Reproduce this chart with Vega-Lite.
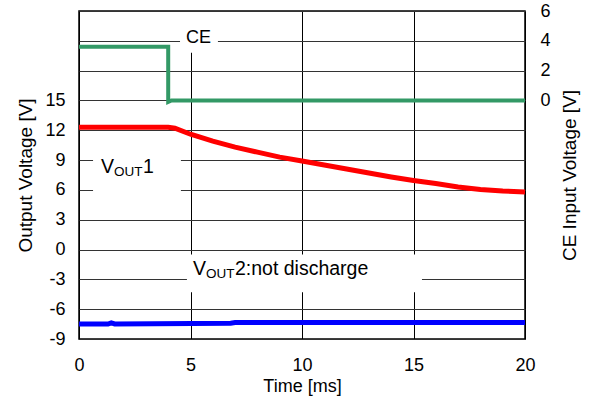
{
  "$schema": "https://vega.github.io/schema/vega-lite/v6.json",
  "width": 446,
  "height": 328,
  "autosize": "none",
  "padding": {"left": 79, "top": 11, "right": 65, "bottom": 61},
  "background": "white",
  "config": {
    "font": "Liberation Sans",
    "view": {"stroke": "#000", "strokeWidth": 1.5},
    "axis": {"labelFont": "Liberation Sans", "titleFont": "Liberation Sans", "labelColor": "#000", "titleColor": "#000", "titleFontWeight": "normal", "domain": false, "ticks": false, "labelOverlap": false}
  },
  "datasets": {
    "vout": [
      {"t": 0, "v": 12.3, "s": "VOUT1"}, {"t": 4.0, "v": 12.3, "s": "VOUT1"}, {"t": 4.3, "v": 12.2, "s": "VOUT1"},
      {"t": 5, "v": 11.6, "s": "VOUT1"}, {"t": 6, "v": 10.9, "s": "VOUT1"}, {"t": 7, "v": 10.3, "s": "VOUT1"},
      {"t": 8, "v": 9.8, "s": "VOUT1"}, {"t": 9, "v": 9.3, "s": "VOUT1"}, {"t": 10, "v": 8.9, "s": "VOUT1"},
      {"t": 11, "v": 8.5, "s": "VOUT1"}, {"t": 12, "v": 8.1, "s": "VOUT1"}, {"t": 13, "v": 7.7, "s": "VOUT1"},
      {"t": 14, "v": 7.3, "s": "VOUT1"}, {"t": 15, "v": 6.95, "s": "VOUT1"}, {"t": 16, "v": 6.65, "s": "VOUT1"},
      {"t": 17, "v": 6.3, "s": "VOUT1"}, {"t": 18, "v": 6.05, "s": "VOUT1"}, {"t": 19, "v": 5.9, "s": "VOUT1"},
      {"t": 20, "v": 5.8, "s": "VOUT1"},
      {"t": 0, "v": -7.5, "s": "VOUT2"}, {"t": 1.3, "v": -7.5, "s": "VOUT2"}, {"t": 1.45, "v": -7.38, "s": "VOUT2"},
      {"t": 1.6, "v": -7.48, "s": "VOUT2"}, {"t": 6.8, "v": -7.42, "s": "VOUT2"}, {"t": 7.0, "v": -7.35, "s": "VOUT2"},
      {"t": 7.6, "v": -7.34, "s": "VOUT2"}, {"t": 20, "v": -7.33, "s": "VOUT2"}
    ],
    "ce": [
      {"t": 0, "v": 3.6}, {"t": 4.0, "v": 3.6}, {"t": 4.0, "v": -0.1}, {"t": 4.15, "v": 0}, {"t": 20, "v": 0}
    ],
    "boxes": [
      {"t1": 4.53, "t2": 6.23, "v1": 19.8, "v2": 23.9},
      {"t1": 0.63, "t2": 4.57, "v1": 4.9, "v2": 10.6},
      {"t1": 4.84, "t2": 15.38, "v1": -4.3, "v2": -0.5}
    ],
    "labels": [
      {"t": 4.8, "v": 20.8, "part": "ce", "txt": "CE"},
      {"t": 0.99, "v": 7.67, "part": "main", "txt": "V"},
      {"t": 0.99, "v": 7.67, "part": "sub", "txt": "OUT"},
      {"t": 0.99, "v": 7.67, "part": "tail", "txt": "1"},
      {"t": 5.11, "v": -2.6, "part": "main", "txt": "V"},
      {"t": 5.11, "v": -2.6, "part": "sub", "txt": "OUT"},
      {"t": 5.11, "v": -2.6, "part": "tail", "txt": "2:not discharge"}
    ]
  },
  "layer": [
    {
      "data": {"name": "ce"},
      "mark": {"type": "line", "opacity": 0},
      "encoding": {
        "x": {"field": "t", "type": "quantitative", "scale": {"domain": [0, 20], "nice": false},
          "axis": {"values": [0, 5, 10, 15, 20], "title": "Time [ms]", "labelFontSize": 18, "titleFontSize": 18, "labelPadding": 17, "titlePadding": 3, "grid": true, "gridColor": "#000", "gridWidth": 1, "labelFlush": false}},
        "y": {"field": "v", "type": "quantitative", "scale": {"domain": [-16, 6], "nice": false, "zero": false},
          "axis": {"orient": "right", "values": [0, 2, 4, 6], "title": "CE Input Voltage [V]", "titleAngle": 270, "titleBaseline": "top", "labelFontSize": 18, "titleFontSize": 19, "labelPadding": 15, "titlePadding": 10, "grid": true, "gridColor": "#333", "gridWidth": 1}}
      }
    },
    {
      "layer": [
        {
          "data": {"name": "boxes"},
          "mark": {"type": "rect", "fill": "white"},
          "encoding": {
            "x": {"field": "t1", "type": "quantitative"},
            "x2": {"field": "t2"},
            "y": {"field": "v1", "type": "quantitative", "scale": {"domain": [-9, 24], "nice": false, "zero": false},
              "axis": {"values": [-9, -6, -3, 0, 3, 6, 9, 12, 15], "labelExpr": "replace(datum.label, '\u2212', '-')", "title": "Output Voltage [V]", "labelFontSize": 18, "titleFontSize": 19, "labelPadding": 14, "titlePadding": 9, "grid": true, "gridColor": "#333", "gridWidth": 1}},
            "y2": {"field": "v2"}
          }
        },
        {
          "data": {"name": "vout"},
          "mark": {"type": "line", "strokeWidth": 5, "strokeCap": "butt"},
          "encoding": {
            "x": {"field": "t", "type": "quantitative"},
            "y": {"field": "v", "type": "quantitative"},
            "detail": {"field": "s"},
            "color": {"field": "s", "type": "nominal", "scale": {"domain": ["VOUT1", "VOUT2"], "range": ["#ff0000", "#0000ff"]}, "legend": null}
          }
        },
        {
          "data": {"name": "labels"},
          "transform": [{"filter": "datum.part == 'ce'"}],
          "mark": {"type": "text", "fontSize": 18, "align": "left", "baseline": "alphabetic", "color": "#000"},
          "encoding": {
            "x": {"field": "t", "type": "quantitative"},
            "y": {"field": "v", "type": "quantitative"},
            "text": {"field": "txt"}
          }
        },
        {
          "data": {"name": "labels"},
          "transform": [{"filter": "datum.part == 'main'"}],
          "mark": {"type": "text", "fontSize": 19.5, "align": "left", "baseline": "alphabetic", "color": "#000"},
          "encoding": {
            "x": {"field": "t", "type": "quantitative"},
            "y": {"field": "v", "type": "quantitative"},
            "text": {"field": "txt"}
          }
        },
        {
          "data": {"name": "labels"},
          "transform": [{"filter": "datum.part == 'sub'"}],
          "mark": {"type": "text", "fontSize": 13.5, "align": "left", "baseline": "alphabetic", "dx": 13, "dy": 2.5, "color": "#000"},
          "encoding": {
            "x": {"field": "t", "type": "quantitative"},
            "y": {"field": "v", "type": "quantitative"},
            "text": {"field": "txt"}
          }
        },
        {
          "data": {"name": "labels"},
          "transform": [{"filter": "datum.part == 'tail'"}],
          "mark": {"type": "text", "fontSize": 19.5, "align": "left", "baseline": "alphabetic", "dx": 42, "color": "#000"},
          "encoding": {
            "x": {"field": "t", "type": "quantitative"},
            "y": {"field": "v", "type": "quantitative"},
            "text": {"field": "txt"}
          }
        }
      ]
    },
    {
      "data": {"name": "ce"},
      "mark": {"type": "line", "strokeWidth": 4, "color": "#339966", "strokeCap": "butt"},
      "encoding": {
        "x": {"field": "t", "type": "quantitative"},
        "y": {"field": "v", "type": "quantitative", "scale": {"domain": [-16, 6], "nice": false, "zero": false}, "axis": null}
      }
    }
  ],
  "resolve": {"scale": {"y": "independent"}}
}
